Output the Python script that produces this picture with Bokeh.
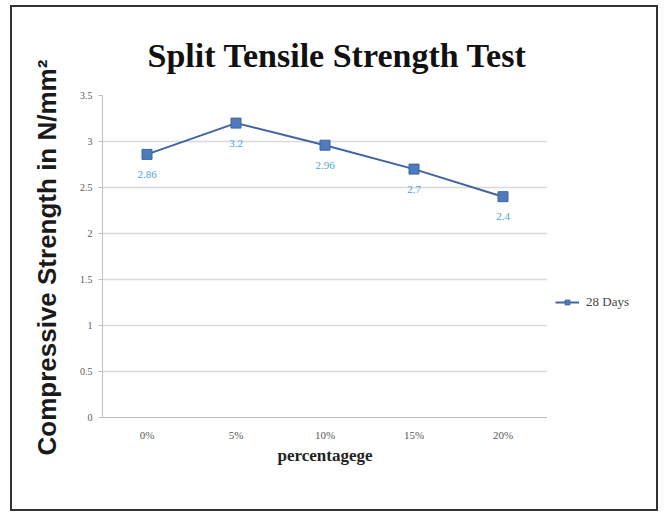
from bokeh.plotting import figure
from bokeh.layouts import row
from bokeh.models import ColumnDataSource, LabelSet, Legend, LegendItem, FixedTicker, Title
from bokeh.embed import file_html
from bokeh.resources import INLINE

categories = ["0%", "5%", "10%", "15%", "20%"]
strength_28_days = [2.86, 3.2, 2.96, 2.7, 2.4]
value_labels = ["2.86", "3.2", "2.96", "2.7", "2.4"]
y_ticks = [0, 0.5, 1, 1.5, 2, 2.5, 3, 3.5]
y_tick_labels = ["0", "0.5", "1", "1.5", "2", "2.5", "3", "3.5"]

src = ColumnDataSource(data=dict(x=categories, y=strength_28_days, lab=value_labels))

LINE_COLOR = "#3f64a0"
MARK_FILL = "#4f7bbd"
MARK_LINE = "#3d65a0"

p = figure(x_range=categories, y_range=(0, 3.5), width=535, height=502,
           output_backend="svg", toolbar_location=None,
           min_border_left=90, min_border_right=0, min_border_top=88, min_border_bottom=92)
p.outline_line_color = None
p.background_fill_color = "white"
p.border_fill_color = "white"

p.add_layout(Title(text="Split Tensile Strength Test", align="left", offset=45, standoff=44,
                   text_font="Liberation Serif", text_font_style="bold", text_font_size="34px",
                   text_color="#111111"), "above")

p.xgrid.grid_line_color = None
p.ygrid.grid_line_color = "#d9d9d9"
p.ygrid.grid_line_width = 1.5

p.yaxis.ticker = FixedTicker(ticks=y_ticks)
p.yaxis.major_label_overrides = {t: l for t, l in zip(y_ticks, y_tick_labels)}
p.yaxis.minor_tick_line_color = None
p.yaxis.major_tick_in = 0
p.yaxis.major_tick_out = 4
p.yaxis.major_tick_line_color = "#bfbfbf"
p.yaxis.axis_line_color = "#bfbfbf"
p.yaxis.major_label_text_font = "Liberation Serif"
p.yaxis.major_label_text_font_size = "10px"
p.yaxis.major_label_text_color = "#595959"
p.yaxis.major_label_standoff = 6

p.add_layout(Title(text="Compressive Strength in N/mm²", align="left", offset=-38, standoff=30,
                   text_font="Liberation Sans", text_font_style="bold", text_font_size="26px",
                   text_color="#1a1a1a"), "left")

p.xaxis.major_tick_line_color = None
p.xaxis.minor_tick_line_color = None
p.xaxis.axis_line_color = "#bfbfbf"
p.xaxis.major_label_text_font = "Liberation Serif"
p.xaxis.major_label_text_font_size = "11px"
p.xaxis.major_label_text_color = "#595959"
p.xaxis.major_label_standoff = 5
p.xaxis.axis_label = "percentagege"
p.xaxis.axis_label_text_font = "Liberation Serif"
p.xaxis.axis_label_text_font_style = "bold"
p.xaxis.axis_label_text_font_size = "17px"
p.xaxis.axis_label_text_color = "#222222"
p.xaxis.axis_label_standoff = 2

p.line("x", "y", source=src, line_color=LINE_COLOR, line_width=2)
p.scatter("x", "y", source=src, marker="square", size=10,
          fill_color=MARK_FILL, line_color=MARK_LINE)

labels = LabelSet(x="x", y="y", text="lab", source=src, y_offset=-20,
                  text_align="center", text_baseline="middle",
                  text_font="Liberation Serif", text_font_size="11px", text_color="#4ba3d6")
p.add_layout(labels)

# legend panel to the right of the plot area
q = figure(x_range=categories, y_range=(10, 11), width=109, height=502,
           output_backend="svg", toolbar_location=None,
           x_axis_location=None, y_axis_location=None,
           min_border_left=0, min_border_right=0, min_border_top=0, min_border_bottom=0)
q.grid.grid_line_color = None
q.outline_line_color = None
q.background_fill_color = "white"
q.border_fill_color = "white"
ql = q.line("x", "y", source=src, line_color=LINE_COLOR, line_width=2)
qs = q.scatter("x", "y", source=src, marker="square", size=8,
               fill_color=MARK_FILL, line_color=MARK_LINE)
legend = Legend(items=[LegendItem(label="28 Days", renderers=[ql, qs])],
                location=(8, 107), border_line_color=None, background_fill_alpha=0,
                label_text_font="Liberation Serif", label_text_font_size="13px",
                label_text_color="#444444", glyph_width=24, glyph_height=12,
                label_standoff=7, padding=4, margin=0)
q.add_layout(legend)

layout = row(p, q, spacing=0,
             styles={"border": "2px solid #333333", "margin-left": "10px", "margin-top": "5px"})

open("out.html", "w").write(file_html(layout, INLINE))
